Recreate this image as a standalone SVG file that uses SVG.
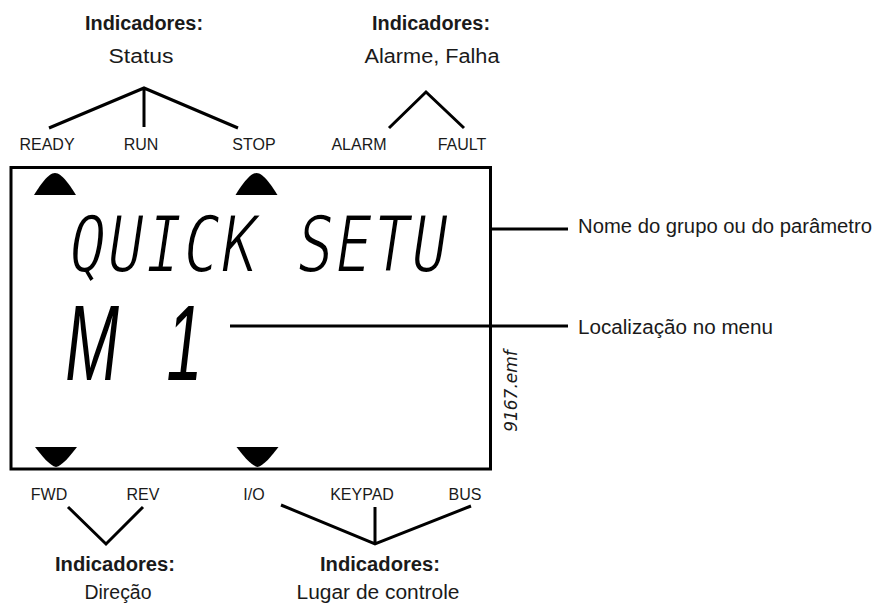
<svg xmlns="http://www.w3.org/2000/svg" xmlns:xlink="http://www.w3.org/1999/xlink" width="882" height="611" viewBox="0 0 882 611">
  <style>
    .lbl { font-family: "Liberation Sans", Arial, sans-serif; fill: #1a1a1a; }
    .hdr { font-size: 20px; font-weight: bold; text-anchor: middle; }
    .sub { font-size: 20px; text-anchor: middle; }
    .ind { font-size: 16px; text-anchor: middle; }
    .side { font-size: 20px; }
    .lcd { font-family: "DejaVu Sans Mono", "Liberation Mono", monospace; font-style: oblique; fill: #000; stroke: #fff; stroke-width: 1.6px; }
    .lcd2 { font-family: "Liberation Sans", Arial, sans-serif; font-style: italic; fill: #000; }
    .fig { font-family: "DejaVu Sans", sans-serif; font-style: oblique; font-size: 17px; fill: #1a1a1a; text-anchor: middle; }
    .ln { fill: none; stroke: #000; stroke-width: 3; stroke-linejoin: miter; }
  </style>
  <defs>
    <path id="triUp" d="M-21,0 L21,0 C16,-8 7,-22 0,-22 C-7,-22 -16,-8 -21,0 Z" fill="#000"/>
    <path id="triDown" d="M-21,0 L21,0 C15,8 6,19 0,20 C-6,19 -15,8 -21,0 Z" fill="#000"/>
  </defs>
  <rect width="882" height="611" fill="#fff"/>

  <g id="display">
    <rect x="11" y="167.5" width="479.5" height="301.5" fill="none" stroke="#000" stroke-width="3"/>
    <use xlink:href="#triUp" href="#triUp" x="55" y="195"/>
    <use xlink:href="#triUp" href="#triUp" x="256.5" y="195"/>
    <use xlink:href="#triDown" href="#triDown" x="56" y="447"/>
    <use xlink:href="#triDown" href="#triDown" x="257.5" y="447"/>
    <text class="lcd" transform="translate(0,272) scale(1,1.3)" x="70" y="0" font-size="60" textLength="378" lengthAdjust="spacing">QUICK SETU</text>
    <text class="lcd2" transform="translate(0,380) scale(0.75,1.25)" x="87 160 222" y="0" font-size="86">M 1</text>
    <text class="fig" transform="translate(517,391) rotate(-90)">9167.emf</text>
  </g>

  <g id="connectors">
    <path class="ln" d="M49,128 L144,88 L238,128 M144,88 L144,127"/>
    <path class="ln" d="M389,128 L426,92 L464,128"/>
    <path class="ln" d="M68,507 L106,544 L143,507"/>
    <path class="ln" d="M281,505 L375,544 L471,506 M375,507 L375,544"/>
    <path class="ln" d="M490,229 L568,229"/>
    <path class="ln" d="M230,326 L568,326"/>
  </g>

  <g id="status-indicators">
    <text class="lbl hdr" x="144" y="30" textLength="118" lengthAdjust="spacingAndGlyphs">Indicadores:</text>
    <text class="lbl sub" x="141" y="63" textLength="65" lengthAdjust="spacingAndGlyphs">Status</text>
  </g>
  <g id="alarm-indicators">
    <text class="lbl hdr" x="431" y="30" textLength="118" lengthAdjust="spacingAndGlyphs">Indicadores:</text>
    <text class="lbl sub" x="432" y="63" textLength="135" lengthAdjust="spacingAndGlyphs">Alarme, Falha</text>
  </g>
  <g id="ready"><text class="lbl ind" x="47" y="150">READY</text></g>
  <g id="run"><text class="lbl ind" x="141" y="150">RUN</text></g>
  <g id="stop"><text class="lbl ind" x="254" y="150">STOP</text></g>
  <g id="alarm"><text class="lbl ind" x="359" y="150">ALARM</text></g>
  <g id="fault"><text class="lbl ind" x="462" y="150">FAULT</text></g>

  <g id="fwd"><text class="lbl ind" x="49" y="500">FWD</text></g>
  <g id="rev"><text class="lbl ind" x="143" y="500">REV</text></g>
  <g id="io"><text class="lbl ind" x="254" y="500">I/O</text></g>
  <g id="keypad"><text class="lbl ind" x="362" y="500">KEYPAD</text></g>
  <g id="bus"><text class="lbl ind" x="465" y="500">BUS</text></g>

  <g id="direction-indicators">
    <text class="lbl hdr" x="115" y="571" textLength="120" lengthAdjust="spacingAndGlyphs">Indicadores:</text>
    <text class="lbl sub" x="118" y="599" textLength="67" lengthAdjust="spacingAndGlyphs">Direção</text>
  </g>
  <g id="control-indicators">
    <text class="lbl hdr" x="380" y="571" textLength="120" lengthAdjust="spacingAndGlyphs">Indicadores:</text>
    <text class="lbl sub" x="378" y="599" textLength="163" lengthAdjust="spacingAndGlyphs">Lugar de controle</text>
  </g>

  <g id="group-name">
    <text class="lbl side" x="578" y="233" textLength="294" lengthAdjust="spacingAndGlyphs">Nome do grupo ou do parâmetro</text>
  </g>
  <g id="menu-location">
    <text class="lbl side" x="578" y="334" textLength="195" lengthAdjust="spacingAndGlyphs">Localização no menu</text>
  </g>
</svg>
